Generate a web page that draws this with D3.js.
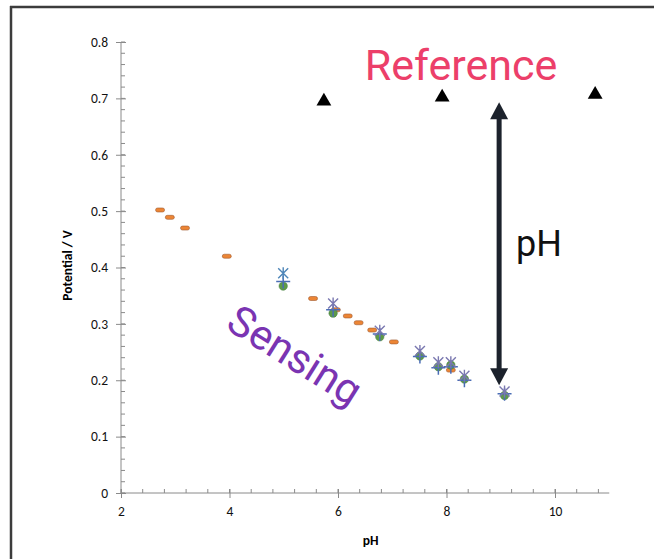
<!DOCTYPE html>
<html><head><meta charset="utf-8">
<script src="https://cdn.jsdelivr.net/npm/d3@7"></script>
<style>body{margin:0;background:#fff;} svg{display:block;}</style>
</head><body>
<svg id="c" width="654" height="559"></svg>
<script>
// ---- data ----
const xTicks = [2, 4, 6, 8, 10];
const yTicks = [0, 0.1, 0.2, 0.3, 0.4, 0.5, 0.6, 0.7, 0.8];
const refPH = [5.74, 7.92, 10.74];
const refV = [0.695, 0.702, 0.707];
const calPH = [2.72, 2.9, 3.18, 3.95, 5.54, 5.96, 6.18, 6.38, 6.63, 7.03, 8.08];
const calV = [0.502, 0.489, 0.470, 0.420, 0.345, 0.325, 0.314, 0.302, 0.289, 0.268, 0.218];
const sensPH = [4.99, 5.91, 6.77, 7.51, 7.85, 8.08, 8.33, 9.07];
const sensStarV = [0.390, 0.336, 0.288, 0.252, 0.232, 0.232, 0.208, 0.180];
const sensCrossV = [0.375, 0.325, 0.282, 0.242, 0.222, 0.224, 0.200, 0.176];
const sensCircleV = [0.367, 0.319, 0.277, 0.243, 0.224, 0.227, 0.202, 0.173];
const arrowPH = 8.97, arrowTopV = 0.693, arrowBotV = 0.191;

const svg = d3.select('#c');
const x = d3.scaleLinear().domain([2, 11]).range([121, 609.25]);
const y = d3.scaleLinear().domain([0, 0.8]).range([493, 42]);
const axisCol = '#8a8a8a';
const font = "Carlito, 'Open Sans', 'Liberation Sans', sans-serif";

// outer frame
svg.append('line').attr('x1', 11).attr('x2', 11).attr('y1', 6).attr('y2', 559).attr('stroke', '#3c3c3c').attr('stroke-width', 2.5);
svg.append('line').attr('x1', 10).attr('x2', 654).attr('y1', 7).attr('y2', 7).attr('stroke', '#3c3c3c').attr('stroke-width', 2.5);

// minor ticks
const gx = svg.append('g');
d3.range(2, 11.001, 0.4).forEach(v => {
  gx.append('line').attr('x1', x(v)).attr('x2', x(v)).attr('y1', y(0)).attr('y2', y(0) - 4).attr('stroke', axisCol);
});
d3.range(0, 0.8001, 0.02).forEach(v => {
  gx.append('line').attr('x1', x(2)).attr('x2', x(2) + 4).attr('y1', y(v)).attr('y2', y(v)).attr('stroke', axisCol);
});

// axes
const xAxis = d3.axisBottom(x).tickValues(xTicks).tickSize(5).tickFormat(d3.format('d'));
const ax = svg.append('g').attr('transform', `translate(0,${y(0)})`).call(xAxis);
ax.select('.domain').attr('stroke', axisCol).attr('d', `M${x(2)},0H${x(11)}`);
ax.selectAll('.tick line').attr('stroke', axisCol).attr('y1', -4).attr('y2', 5);
ax.selectAll('.tick text').attr('font-family', font).attr('font-size', 13.5).attr('fill', '#111').attr('dy', '1.1em');

const yAxis = d3.axisLeft(y).tickValues(yTicks).tickSize(5).tickFormat(d => d === 0 ? '0' : d3.format('.1f')(d));
const ay = svg.append('g').attr('transform', `translate(${x(2)},0)`).call(yAxis);
ay.select('.domain').attr('stroke', axisCol).attr('d', `M0,${y(0.8)}V${y(0)}`);
ay.selectAll('.tick line').attr('stroke', axisCol).attr('x1', 5).attr('x2', -5);
ay.selectAll('.tick text').attr('font-family', font).attr('font-size', 13.5).attr('fill', '#111').attr('x', -13);

svg.append('text').attr('x', x(6.6)).attr('y', 545).attr('text-anchor', 'middle')
  .attr('font-family', font).attr('font-weight', 'bold').attr('font-size', 13.5).text('pH');
svg.append('text').attr('transform', `translate(72,${y(0.4) - 2}) rotate(-90)`).attr('text-anchor', 'middle')
  .attr('font-family', font).attr('font-weight', 'bold').attr('font-size', 13.5).text('Potential / V');

// reference triangles
svg.append('g').selectAll('path').data(refPH).join('path')
  .attr('transform', (d, i) => `translate(${x(d)},${y(refV[i])})`)
  .attr('d', d3.symbol(d3.symbolTriangle, 95)).attr('fill', '#000');

// calibration dashes
svg.append('g').selectAll('rect').data(calPH).join('rect')
  .attr('x', d => x(d) - 4.5).attr('y', (d, i) => y(calV[i]) - 2)
  .attr('width', 9).attr('height', 4).attr('rx', 2)
  .attr('fill', '#ec8535').attr('stroke', '#a05a30').attr('stroke-width', 0.6);

// sensing markers
const gs = svg.append('g');
gs.selectAll('circle').data(sensPH).join('circle')
  .attr('cx', d => x(d)).attr('cy', (d, i) => y(sensCircleV[i])).attr('r', 4.2)
  .attr('fill', '#5f9a48').attr('stroke', '#3f7a3a').attr('stroke-width', 0.5);
gs.selectAll('path.cross').data(sensPH).join('path').attr('class', 'cross')
  .attr('transform', (d, i) => `translate(${x(d)},${y(sensCrossV[i])})`)
  .attr('d', 'M-7,0H7M0,-6V7').attr('stroke', '#4a6db5').attr('stroke-width', 1.5).attr('fill', 'none');
gs.selectAll('path.star').data(sensPH).join('path').attr('class', 'star')
  .attr('transform', (d, i) => `translate(${x(d)},${y(sensStarV[i])})`)
  .attr('d', 'M-5,-5L5,5M-5,5L5,-5M0,-6V6')
  .attr('stroke', (d, i) => i === 0 ? '#4f86b8' : '#7a78b0').attr('stroke-width', 1.4).attr('fill', 'none');

// double arrow
const ax0 = x(arrowPH), yt = y(arrowTopV), yb = y(arrowBotV);
const arrowCol = '#1c222c';
svg.append('line').attr('x1', ax0).attr('x2', ax0).attr('y1', yt + 14).attr('y2', yb - 14)
  .attr('stroke', arrowCol).attr('stroke-width', 5);
svg.append('path').attr('d', `M${ax0},${yt}L${ax0 + 9},${yt + 17}L${ax0 - 9},${yt + 17}Z`).attr('fill', arrowCol);
svg.append('path').attr('d', `M${ax0},${yb}L${ax0 + 9},${yb - 17}L${ax0 - 9},${yb - 17}Z`).attr('fill', arrowCol);

// annotations
svg.append('text').attr('x', 461).attr('y', 80).attr('text-anchor', 'middle')
  .attr('font-family', 'Roboto, sans-serif').attr('font-size', 43).attr('fill', '#ec3f6a').text('Reference');
svg.append('text').attr('x', 516).attr('y', 256)
  .attr('font-family', 'Roboto, sans-serif').attr('font-size', 36).attr('fill', '#111').text('pH');
svg.append('text').attr('transform', 'translate(224,328) rotate(32)')
  .attr('font-family', 'Roboto, sans-serif').attr('font-size', 42).attr('fill', '#7a34b2').text('Sensing');
</script>
</body></html>
